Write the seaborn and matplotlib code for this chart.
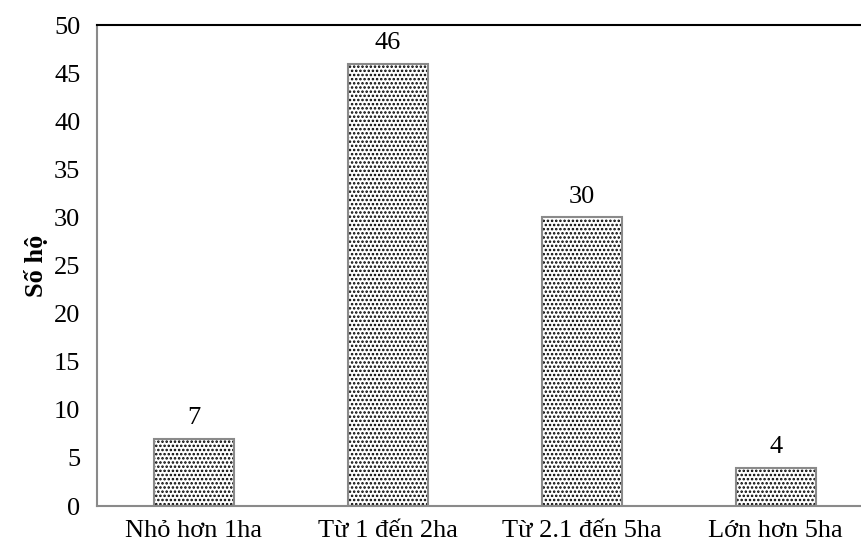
import seaborn as sns
import matplotlib.pyplot as plt
import numpy as np

categories = ["Nhỏ hơn 1ha", "Từ 1 đến 2ha", "Từ 2.1 đến 5ha", "Lớn hơn 5ha"]
households = [7, 46, 30, 4]
yticks = [0, 5, 10, 15, 20, 25, 30, 35, 40, 45, 50]

sns.set_style("white")
plt.rcParams['font.family'] = ['Liberation Serif', 'DejaVu Serif']
plt.rcParams['hatch.linewidth'] = 1.2
plt.rcParams['text.color'] = 'black'
plt.rcParams['axes.labelcolor'] = 'black'
plt.rcParams['xtick.labelcolor'] = 'black'
plt.rcParams['ytick.labelcolor'] = 'black'

fig = plt.figure(figsize=(8.62, 5.48), dpi=100)
ax = fig.add_axes([0.1125, 0.0766, 0.900, 0.8777])

# dotted fill (black dots), then grey outline on top
sns.barplot(x=categories, y=households, ax=ax, color="white", edgecolor="black",
            hatch="....", linewidth=0, width=0.41)
sns.barplot(x=categories, y=households, ax=ax, fill=False, edgecolor="#8a8a8a",
            linewidth=1.5, width=0.41)

ax.bar_label(ax.containers[0], fmt="%d", padding=7, fontsize=19, color="black")

ax.set_xlim(-0.5, 3.5)
ax.set_ylim(0, 50)
ax.set_yticks(yticks)
ax.set_ylabel("Số hộ", fontsize=19, fontweight="bold", labelpad=4)

ax.set_xticks(range(len(categories)))
ax.set_xticklabels(categories)
ax.set_xticks(np.arange(-0.5, len(categories), 1.0), minor=True)
ax.tick_params(axis="x", which="major", length=0, pad=10, labelsize=19)
ax.tick_params(axis="x", which="minor", length=6, width=1.2, color="#8a8a8a", direction="out")
ax.tick_params(axis="y", length=6, width=1.2, color="#8a8a8a", direction="out", labelsize=19, pad=6)

for side in ["left", "bottom"]:
    ax.spines[side].set_color("#8a8a8a")
    ax.spines[side].set_linewidth(1.5)
ax.spines["top"].set_color("black")
ax.spines["top"].set_linewidth(1.5)
ax.spines["right"].set_visible(False)

fig.savefig("out.png", dpi=100)
